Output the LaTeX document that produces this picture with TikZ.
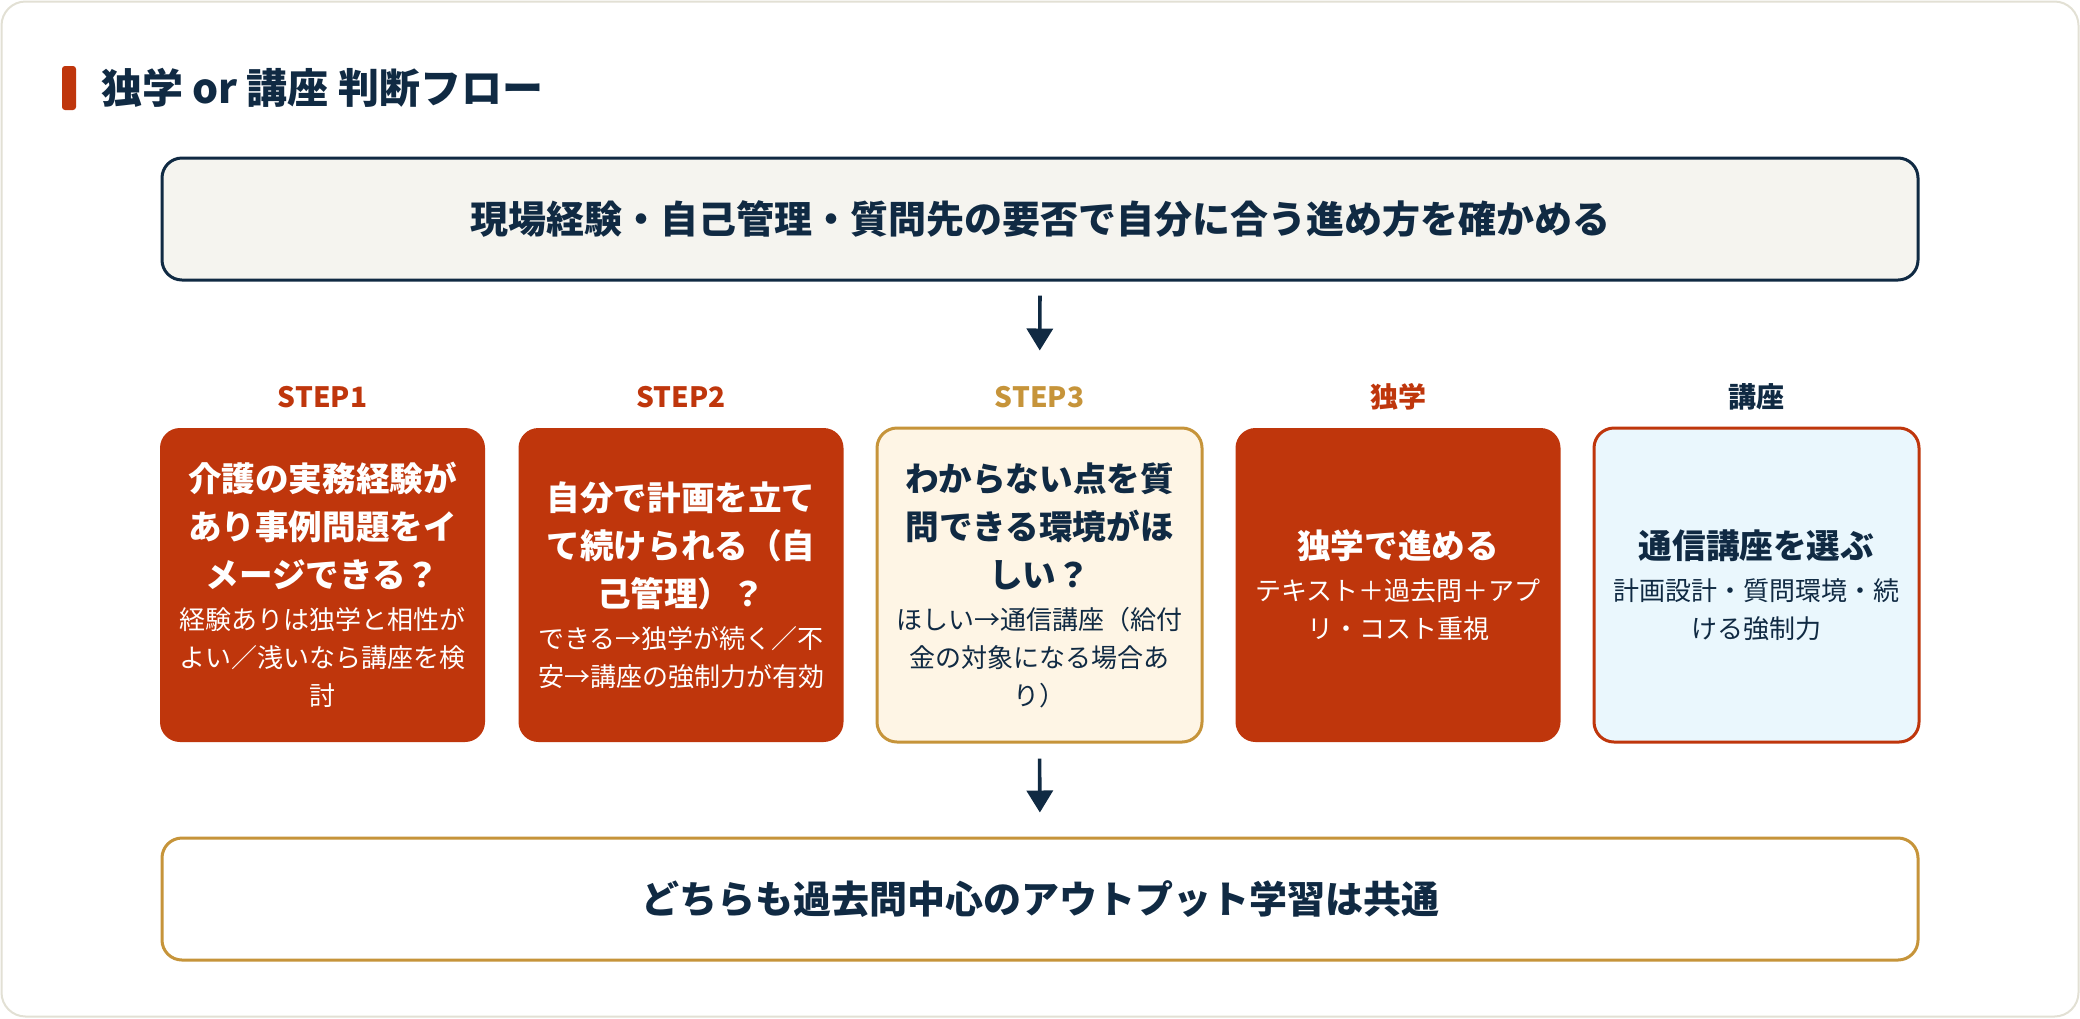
\documentclass[tikz,border=0pt]{standalone}
\usepackage{fontspec}
\setmainfont{Noto Sans CJK JP}
\usetikzlibrary{arrows.meta}
\definecolor{navy}{HTML}{102A43}
\definecolor{rust}{HTML}{BF360C}
\definecolor{gold}{HTML}{C6943A}
\definecolor{cream}{HTML}{FEF5E5}
\definecolor{skyfill}{HTML}{EAF7FD}
\definecolor{paper}{HTML}{F5F4EF}
\definecolor{cardline}{HTML}{E2E0D4}
\newcommand{\qmain}[1]{{\fontsize{16.8pt}{24pt}\selectfont\bfseries #1\par}}
\newcommand{\qsub}[1]{{\vskip2pt\fontsize{13pt}{19pt}\selectfont #1\par}}

\begin{document}
\begin{tikzpicture}[x=0.5pt,y=-0.5pt,
    widebox/.style={shape=rectangle, rounded corners=10pt, line width=1.5pt, minimum width=878pt, minimum height=61pt, font=\fontsize{19pt}{23pt}\selectfont\bfseries, text=navy},
    stepbox/.style={shape=rectangle, rounded corners=10pt, line width=1.5pt, minimum width=162.5pt, minimum height=157pt, text width=150pt, align=center, inner sep=0pt},
    steplabel/.style={font=\fontsize{14pt}{16pt}\selectfont\bfseries},
    flowarrow/.style={draw=navy, line width=1.8pt, -{Triangle[length=11pt,width=13pt]}}]
    \useasboundingbox (0,0) rectangle (2080,1018);
    \draw[cardline, line width=1pt, fill=white, rounded corners=12pt] (1.5,1.5) rectangle (2078.5,1016.5);

    % title
    \fill[rust, rounded corners=1.5pt] (62,66) rectangle (76,110);
    \node[anchor=west, text=navy, font=\fontsize{20.5pt}{24pt}\selectfont\bfseries] (title) at (94,88) {独学 or 講座 判断フロー};

    \node[widebox, draw=navy, fill=paper] (top) at (1040,219) {現場経験・自己管理・質問先の要否で自分に合う進め方を確かめる};

    \node[steplabel, text=rust] (lab1) at (322.5,397) {STEP1};
    \node[steplabel, text=rust] (lab2) at (681,397) {STEP2};
    \node[steplabel, text=gold] (lab3) at (1039.5,397) {STEP3};
    \node[steplabel, text=rust] (lab4) at (1398,397) {独学};
    \node[steplabel, text=navy] (lab5) at (1756.5,397) {講座};

    \node[stepbox, fill=rust, text=white] (step1) at (322.5,585) {\qmain{介護の実務経験が\\あり事例問題をイ\\メージできる？}\qsub{経験ありは独学と相性が\\よい／浅いなら講座を検\\討}};
    \node[stepbox, fill=rust, text=white] (step2) at (681,585) {\qmain{自分で計画を立て\\て続けられる（自\\己管理）？}\qsub{できる→独学が続く／不\\安→講座の強制力が有効}};
    \node[stepbox, draw=gold, fill=cream, text=navy] (step3) at (1039.5,585) {\qmain{わからない点を質\\問できる環境がほ\\しい？}\qsub{ほしい→通信講座（給付\\金の対象になる場合あ\\り）}};
    \node[stepbox, fill=rust, text=white] (self) at (1398,585) {\qmain{独学で進める}\qsub{テキスト＋過去問＋アプ\\リ・コスト重視}};
    \node[stepbox, draw=rust, fill=skyfill, text=navy] (course) at (1756.5,585) {\qmain{通信講座を選ぶ}\qsub{計画設計・質問環境・続\\ける強制力}};

    \node[widebox, draw=gold, fill=white] (common) at (1040,899) {どちらも過去問中心のアウトプット学習は共通};

    \draw[flowarrow, shorten <=7pt, shorten >=38pt] (top.south) -- (step3.north);
    \draw[flowarrow, shorten <=7.5pt, shorten >=12pt] (step3.south) -- (common.north);
\end{tikzpicture}
\end{document}
